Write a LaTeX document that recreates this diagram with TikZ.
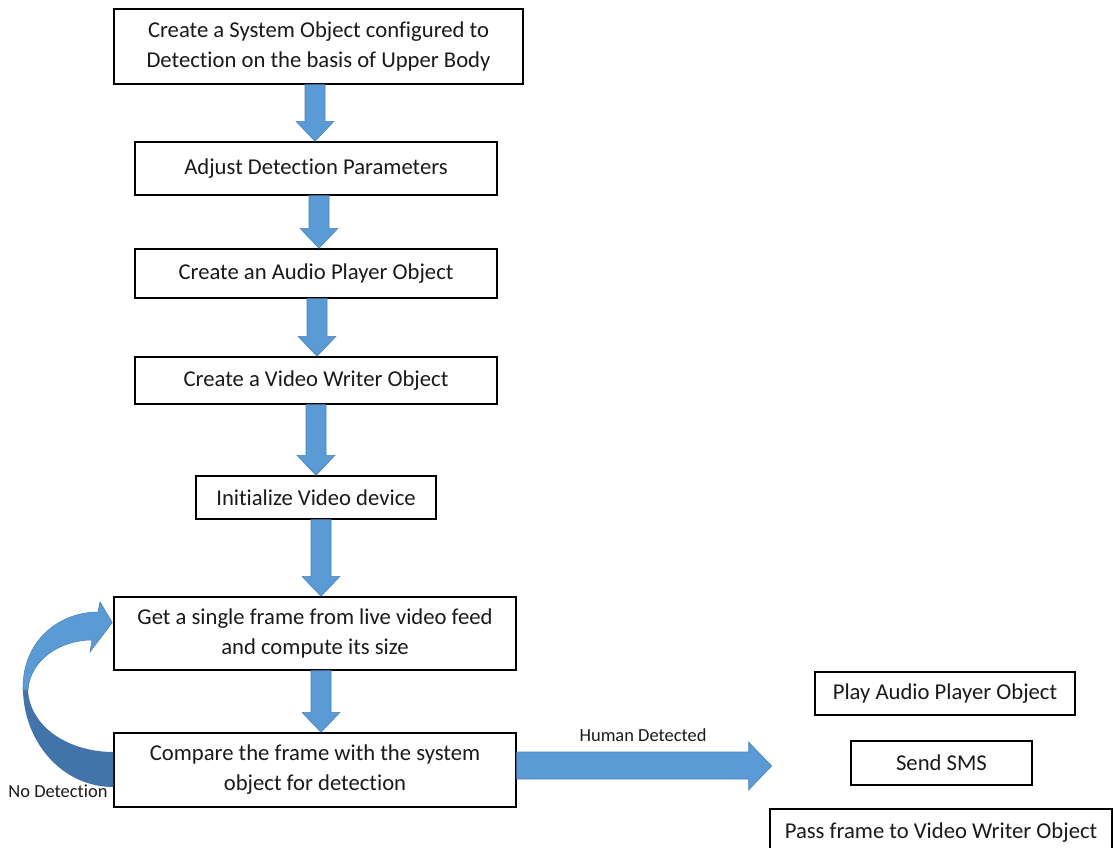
\documentclass[tikz,border=0pt]{standalone}
\usepackage{fontspec}
\setmainfont{Carlito}[Ligatures=NoCommon]
\usetikzlibrary{calc}
\definecolor{arrowblue}{HTML}{5B9BD5}
\definecolor{arrowedge}{HTML}{4A80B8}
\definecolor{arrowdark}{HTML}{4274AA}
\definecolor{txt}{HTML}{1A1A1A}
\tikzset{
  box/.style={draw=black, line width=0.8pt, fill=white, align=center,
    font=\fontsize{12.9}{17}\selectfont, text=txt, inner sep=0pt},
  blockarrow/.style={fill=arrowblue, draw=arrowedge, line width=0.3pt, line join=miter},
  lbl/.style={font=\fontsize{10.5}{12}\selectfont, text=txt, inner sep=0pt}
}
% #1 from node, #2 to node, #3 x centre (px)
\newcommand\blockdown[3]{%
  \filldraw[blockarrow]
    ($(#3,0 |- #1.south)+(-10,0)$) -- ($(#3,0 |- #1.south)+(10,0)$)
    -- ($(#3,0 |- #2.north)+(10,-20)$) -- ($(#3,0 |- #2.north)+(19,-20)$)
    -- (#3,0 |- #2.north)
    -- ($(#3,0 |- #2.north)+(-19,-20)$) -- ($(#3,0 |- #2.north)+(-10,-20)$) -- cycle;}
\begin{document}
\begin{tikzpicture}[x=0.02cm, y=-0.02cm]
\useasboundingbox (0,0) rectangle (1113,848);
\clip (0,0) rectangle (1113,848);

\node[box, minimum width=8.18cm, minimum height=1.5cm] (b1) at (318.5,46.5)
  {Create a System Object configured to\\Detection on the basis of Upper Body};
\node[box, minimum width=7.24cm, minimum height=1.06cm] (b2) at (316,168.5)
  {Adjust Detection Parameters};
\node[box, minimum width=7.24cm, minimum height=0.98cm] (b3) at (316,273.5)
  {Create an Audio Player Object};
\node[box, minimum width=7.24cm, minimum height=0.94cm] (b4) at (316,380.5)
  {Create a Video Writer Object};
\node[box, minimum width=4.8cm, minimum height=0.86cm] (b5) at (316,497.5)
  {Initialize Video device};
\node[box, minimum width=8.04cm, minimum height=1.46cm] (b6) at (315,633.5)
  {Get a single frame from live video feed\\and compute its size};
\node[box, minimum width=8.04cm, minimum height=1.48cm] (b7) at (315,770)
  {Compare the frame with the system\\object for detection};
\node[box, minimum width=5.2cm, minimum height=0.86cm] (play) at (945,693.5)
  {Play Audio Player Object};
\node[box, minimum width=3.62cm, minimum height=0.88cm] (sms) at (941.5,763)
  {Send SMS};
\node[box, minimum width=6.84cm, minimum height=0.96cm] (pass) at (941,833)
  {Pass frame to Video Writer Object};

\blockdown{b1}{b2}{315}
\blockdown{b2}{b3}{319}
\blockdown{b3}{b4}{317}
\blockdown{b4}{b5}{316}
\blockdown{b5}{b6}{321}
\blockdown{b6}{b7}{321}

% Human Detected arrow
\coordinate (htip) at ($(b7.east)+(255,-4)$);
\filldraw[blockarrow]
  ($(b7.east)+(0,-18)$) -- ($(b7.east)+(232,-18)$) -- ($(b7.east)+(232,-28)$)
  -- (htip) -- ($(b7.east)+(232,20)$) -- ($(b7.east)+(232,9)$) -- ($(b7.east)+(0,9)$) -- cycle;
\node[lbl] (hd) at (643,735) {Human Detected};

% No Detection curved arrow (from b7 back to b6)
\coordinate (ctip) at ($(b6.west)+(-1,-11)$);
\coordinate (cbot) at ($(b7.west)+(0,17)$);
\coordinate (ctop) at ($(b7.west)+(0,-18)$);
\fill[arrowdark]
  (23,690) .. controls (24,742) and (62,787) .. (cbot)
  -- (ctop) .. controls (70,752) and (30,728) .. (28,690) -- cycle;
\filldraw[blockarrow]
  (23,690) .. controls (22,640) and (60,612) .. (98,612)
  -- (100,602) -- (ctip) -- (90,652) -- (92,640)
  .. controls (60,640) and (30,660) .. (28,690) -- cycle;
\node[lbl] (nd) at (58,791) {No Detection};
\end{tikzpicture}
\end{document}
